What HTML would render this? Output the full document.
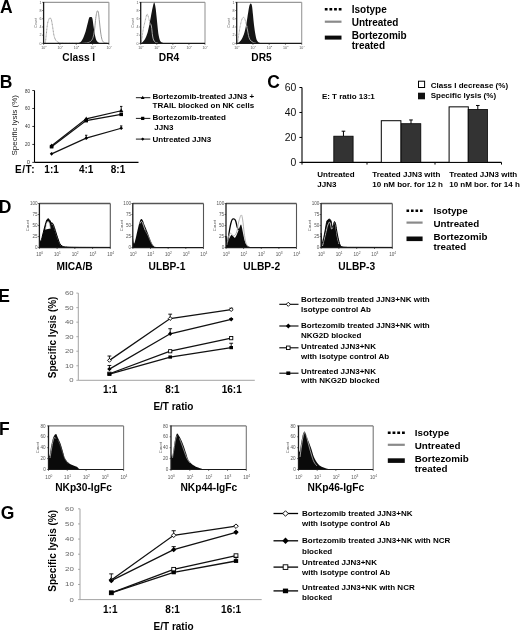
<!DOCTYPE html>
<html><head><meta charset="utf-8"><style>
html,body{margin:0;padding:0;background:#fff;}
body{width:520px;height:630px;overflow:hidden;font-family:"Liberation Sans", sans-serif;}
svg{display:block;filter:blur(0.35px);}
</style></head><body>
<svg width="520" height="630" viewBox="0 0 520 630" font-family='"Liberation Sans", sans-serif'>
<rect width="520" height="630" fill="#fff"/>
<text x="-0.1" y="13.2" font-size="17.5" font-weight="bold" text-anchor="start" fill="#000" >A</text>
<line x1="43.60" y1="2.30" x2="108.90" y2="2.30" stroke="#999" stroke-width="1.3" />
<line x1="108.90" y1="2.30" x2="108.90" y2="43.40" stroke="#999" stroke-width="1.1" />
<line x1="42.20" y1="43.40" x2="43.60" y2="43.40" stroke="#333" stroke-width="0.7" />
<text x="41.4" y="44.696" font-size="3.6" font-weight="normal" text-anchor="end" fill="#555" >0</text>
<line x1="42.20" y1="35.18" x2="43.60" y2="35.18" stroke="#333" stroke-width="0.7" />
<text x="41.4" y="36.476" font-size="3.6" font-weight="normal" text-anchor="end" fill="#555" >2</text>
<line x1="42.20" y1="26.96" x2="43.60" y2="26.96" stroke="#333" stroke-width="0.7" />
<text x="41.4" y="28.255999999999997" font-size="3.6" font-weight="normal" text-anchor="end" fill="#555" >4</text>
<line x1="42.20" y1="18.74" x2="43.60" y2="18.74" stroke="#333" stroke-width="0.7" />
<text x="41.4" y="20.035999999999994" font-size="3.6" font-weight="normal" text-anchor="end" fill="#555" >6</text>
<line x1="42.20" y1="10.52" x2="43.60" y2="10.52" stroke="#333" stroke-width="0.7" />
<text x="41.4" y="11.815999999999995" font-size="3.6" font-weight="normal" text-anchor="end" fill="#555" >8</text>
<line x1="42.20" y1="2.30" x2="43.60" y2="2.30" stroke="#333" stroke-width="0.7" />
<text x="41.4" y="3.5959999999999974" font-size="3.6" font-weight="normal" text-anchor="end" fill="#555" >1</text>
<line x1="43.60" y1="43.40" x2="43.60" y2="44.80" stroke="#333" stroke-width="0.7" />
<text x="43.9" y="48.6" font-size="3.6" font-weight="normal" text-anchor="middle" fill="#555" >10<tspan font-size="2.52" dy="-1.44">0</tspan></text>
<line x1="59.93" y1="43.40" x2="59.93" y2="44.80" stroke="#333" stroke-width="0.7" />
<text x="60.225" y="48.6" font-size="3.6" font-weight="normal" text-anchor="middle" fill="#555" >10<tspan font-size="2.52" dy="-1.44">1</tspan></text>
<line x1="76.25" y1="43.40" x2="76.25" y2="44.80" stroke="#333" stroke-width="0.7" />
<text x="76.55" y="48.6" font-size="3.6" font-weight="normal" text-anchor="middle" fill="#555" >10<tspan font-size="2.52" dy="-1.44">2</tspan></text>
<line x1="92.58" y1="43.40" x2="92.58" y2="44.80" stroke="#333" stroke-width="0.7" />
<text x="92.87500000000001" y="48.6" font-size="3.6" font-weight="normal" text-anchor="middle" fill="#555" >10<tspan font-size="2.52" dy="-1.44">3</tspan></text>
<line x1="108.90" y1="43.40" x2="108.90" y2="44.80" stroke="#333" stroke-width="0.7" />
<text x="109.2" y="48.6" font-size="3.6" font-weight="normal" text-anchor="middle" fill="#555" >10<tspan font-size="2.52" dy="-1.44">4</tspan></text>
<text x="37.0" y="22.849999999999998" font-size="3.6" font-weight="normal" text-anchor="middle" fill="#555" transform="rotate(-90 37.00 22.85)">Count</text>
<line x1="140.70" y1="2.30" x2="205.00" y2="2.30" stroke="#999" stroke-width="1.3" />
<line x1="205.00" y1="2.30" x2="205.00" y2="43.40" stroke="#999" stroke-width="1.1" />
<line x1="139.30" y1="43.40" x2="140.70" y2="43.40" stroke="#333" stroke-width="0.7" />
<text x="138.5" y="44.696" font-size="3.6" font-weight="normal" text-anchor="end" fill="#555" >0</text>
<line x1="139.30" y1="35.18" x2="140.70" y2="35.18" stroke="#333" stroke-width="0.7" />
<text x="138.5" y="36.476" font-size="3.6" font-weight="normal" text-anchor="end" fill="#555" >2</text>
<line x1="139.30" y1="26.96" x2="140.70" y2="26.96" stroke="#333" stroke-width="0.7" />
<text x="138.5" y="28.255999999999997" font-size="3.6" font-weight="normal" text-anchor="end" fill="#555" >4</text>
<line x1="139.30" y1="18.74" x2="140.70" y2="18.74" stroke="#333" stroke-width="0.7" />
<text x="138.5" y="20.035999999999994" font-size="3.6" font-weight="normal" text-anchor="end" fill="#555" >6</text>
<line x1="139.30" y1="10.52" x2="140.70" y2="10.52" stroke="#333" stroke-width="0.7" />
<text x="138.5" y="11.815999999999995" font-size="3.6" font-weight="normal" text-anchor="end" fill="#555" >8</text>
<line x1="139.30" y1="2.30" x2="140.70" y2="2.30" stroke="#333" stroke-width="0.7" />
<text x="138.5" y="3.5959999999999974" font-size="3.6" font-weight="normal" text-anchor="end" fill="#555" >1</text>
<line x1="140.70" y1="43.40" x2="140.70" y2="44.80" stroke="#333" stroke-width="0.7" />
<text x="141.0" y="48.6" font-size="3.6" font-weight="normal" text-anchor="middle" fill="#555" >10<tspan font-size="2.52" dy="-1.44">0</tspan></text>
<line x1="156.77" y1="43.40" x2="156.77" y2="44.80" stroke="#333" stroke-width="0.7" />
<text x="157.075" y="48.6" font-size="3.6" font-weight="normal" text-anchor="middle" fill="#555" >10<tspan font-size="2.52" dy="-1.44">1</tspan></text>
<line x1="172.85" y1="43.40" x2="172.85" y2="44.80" stroke="#333" stroke-width="0.7" />
<text x="173.15" y="48.6" font-size="3.6" font-weight="normal" text-anchor="middle" fill="#555" >10<tspan font-size="2.52" dy="-1.44">2</tspan></text>
<line x1="188.93" y1="43.40" x2="188.93" y2="44.80" stroke="#333" stroke-width="0.7" />
<text x="189.22500000000002" y="48.6" font-size="3.6" font-weight="normal" text-anchor="middle" fill="#555" >10<tspan font-size="2.52" dy="-1.44">3</tspan></text>
<line x1="205.00" y1="43.40" x2="205.00" y2="44.80" stroke="#333" stroke-width="0.7" />
<text x="205.3" y="48.6" font-size="3.6" font-weight="normal" text-anchor="middle" fill="#555" >10<tspan font-size="2.52" dy="-1.44">4</tspan></text>
<text x="134.1" y="22.849999999999998" font-size="3.6" font-weight="normal" text-anchor="middle" fill="#555" transform="rotate(-90 134.10 22.85)">Count</text>
<line x1="236.70" y1="2.30" x2="301.70" y2="2.30" stroke="#999" stroke-width="1.3" />
<line x1="301.70" y1="2.30" x2="301.70" y2="43.40" stroke="#999" stroke-width="1.1" />
<line x1="235.30" y1="43.40" x2="236.70" y2="43.40" stroke="#333" stroke-width="0.7" />
<text x="234.5" y="44.696" font-size="3.6" font-weight="normal" text-anchor="end" fill="#555" >0</text>
<line x1="235.30" y1="35.18" x2="236.70" y2="35.18" stroke="#333" stroke-width="0.7" />
<text x="234.5" y="36.476" font-size="3.6" font-weight="normal" text-anchor="end" fill="#555" >2</text>
<line x1="235.30" y1="26.96" x2="236.70" y2="26.96" stroke="#333" stroke-width="0.7" />
<text x="234.5" y="28.255999999999997" font-size="3.6" font-weight="normal" text-anchor="end" fill="#555" >4</text>
<line x1="235.30" y1="18.74" x2="236.70" y2="18.74" stroke="#333" stroke-width="0.7" />
<text x="234.5" y="20.035999999999994" font-size="3.6" font-weight="normal" text-anchor="end" fill="#555" >6</text>
<line x1="235.30" y1="10.52" x2="236.70" y2="10.52" stroke="#333" stroke-width="0.7" />
<text x="234.5" y="11.815999999999995" font-size="3.6" font-weight="normal" text-anchor="end" fill="#555" >8</text>
<line x1="235.30" y1="2.30" x2="236.70" y2="2.30" stroke="#333" stroke-width="0.7" />
<text x="234.5" y="3.5959999999999974" font-size="3.6" font-weight="normal" text-anchor="end" fill="#555" >1</text>
<line x1="236.70" y1="43.40" x2="236.70" y2="44.80" stroke="#333" stroke-width="0.7" />
<text x="237.0" y="48.6" font-size="3.6" font-weight="normal" text-anchor="middle" fill="#555" >10<tspan font-size="2.52" dy="-1.44">0</tspan></text>
<line x1="252.95" y1="43.40" x2="252.95" y2="44.80" stroke="#333" stroke-width="0.7" />
<text x="253.25" y="48.6" font-size="3.6" font-weight="normal" text-anchor="middle" fill="#555" >10<tspan font-size="2.52" dy="-1.44">1</tspan></text>
<line x1="269.20" y1="43.40" x2="269.20" y2="44.80" stroke="#333" stroke-width="0.7" />
<text x="269.5" y="48.6" font-size="3.6" font-weight="normal" text-anchor="middle" fill="#555" >10<tspan font-size="2.52" dy="-1.44">2</tspan></text>
<line x1="285.45" y1="43.40" x2="285.45" y2="44.80" stroke="#333" stroke-width="0.7" />
<text x="285.75" y="48.6" font-size="3.6" font-weight="normal" text-anchor="middle" fill="#555" >10<tspan font-size="2.52" dy="-1.44">3</tspan></text>
<line x1="301.70" y1="43.40" x2="301.70" y2="44.80" stroke="#333" stroke-width="0.7" />
<text x="302.0" y="48.6" font-size="3.6" font-weight="normal" text-anchor="middle" fill="#555" >10<tspan font-size="2.52" dy="-1.44">4</tspan></text>
<text x="230.1" y="22.849999999999998" font-size="3.6" font-weight="normal" text-anchor="middle" fill="#555" transform="rotate(-90 230.10 22.85)">Count</text>
<path d="M44.50,43.40 C44.65,43.27 45.12,44.00 45.40,42.60 C45.68,41.20 45.85,38.10 46.20,35.00 C46.55,31.90 47.03,26.67 47.50,24.00 C47.97,21.33 48.57,19.98 49.00,19.00 C49.43,18.02 49.72,18.02 50.10,18.10 C50.48,18.18 50.90,18.18 51.30,19.50 C51.70,20.82 52.05,23.33 52.50,26.00 C52.95,28.67 53.42,33.08 54.00,35.50 C54.58,37.92 55.17,39.32 56.00,40.50 C56.83,41.68 57.83,42.15 59.00,42.60 C60.17,43.05 59.50,43.08 63.00,43.20 C66.50,43.32 77.17,43.28 80.00,43.30" fill="none" stroke="#999" stroke-width="1.0" stroke-dasharray="1.0 0.4"/>
<path d="M77.00,43.40 C77.50,43.23 79.15,42.97 80.00,42.40 C80.85,41.83 81.43,41.07 82.10,40.00 C82.77,38.93 83.42,37.42 84.00,36.00 C84.58,34.58 85.10,33.17 85.60,31.50 C86.10,29.83 86.57,27.72 87.00,26.00 C87.43,24.28 87.83,22.57 88.20,21.20 C88.57,19.83 88.82,18.48 89.20,17.80 C89.58,17.12 90.07,17.18 90.50,17.10 C90.93,17.02 91.45,16.90 91.80,17.30 C92.15,17.70 92.32,18.05 92.60,19.50 C92.88,20.95 93.18,23.83 93.50,26.00 C93.82,28.17 94.17,30.58 94.50,32.50 C94.83,34.42 95.12,36.08 95.50,37.50 C95.88,38.92 96.15,40.10 96.80,41.00 C97.45,41.90 98.53,42.50 99.40,42.90 C100.27,43.30 101.57,43.32 102.00,43.40 L102.00,43.40 L77.00,43.40 Z" fill="#151515" stroke="none" stroke-width="1" />
<path d="M82.00,43.40 C83.00,43.27 86.50,43.00 88.00,42.60 C89.50,42.20 90.17,41.85 91.00,41.00 C91.83,40.15 92.42,39.33 93.00,37.50 C93.58,35.67 94.08,32.83 94.50,30.00 C94.92,27.17 95.17,23.25 95.50,20.50 C95.83,17.75 96.17,15.12 96.50,13.50 C96.83,11.88 97.17,10.85 97.50,10.80 C97.83,10.75 98.17,11.33 98.50,13.20 C98.83,15.07 99.15,18.87 99.50,22.00 C99.85,25.13 100.18,29.08 100.60,32.00 C101.02,34.92 101.43,37.73 102.00,39.50 C102.57,41.27 103.17,41.98 104.00,42.60 C104.83,43.22 106.50,43.10 107.00,43.20" fill="none" stroke="#999" stroke-width="1.0" />
<path d="M141.30,43.40 C141.75,42.93 143.22,41.67 144.00,40.60 C144.78,39.53 145.33,38.60 146.00,37.00 C146.67,35.40 147.42,33.17 148.00,31.00 C148.58,28.83 149.00,26.50 149.50,24.00 C150.00,21.50 150.48,18.70 151.00,16.00 C151.52,13.30 152.07,10.03 152.60,7.80 C153.13,5.57 153.70,2.57 154.20,2.60 C154.70,2.63 155.20,5.60 155.60,8.00 C156.00,10.40 156.27,13.83 156.60,17.00 C156.93,20.17 157.27,24.00 157.60,27.00 C157.93,30.00 158.20,32.77 158.60,35.00 C159.00,37.23 159.43,39.15 160.00,40.40 C160.57,41.65 161.17,42.03 162.00,42.50 C162.83,42.97 163.67,43.05 165.00,43.20 C166.33,43.35 169.17,43.37 170.00,43.40 L170.00,43.40 L141.30,43.40 Z" fill="#151515" stroke="none" stroke-width="1" />
<path d="M141.00,43.40 C141.15,42.58 141.50,40.98 141.90,38.50 C142.30,36.02 142.88,31.33 143.40,28.50 C143.92,25.67 144.52,23.58 145.00,21.50 C145.48,19.42 145.92,17.22 146.30,16.00 C146.68,14.78 146.93,13.95 147.30,14.20 C147.67,14.45 148.05,15.95 148.50,17.50 C148.95,19.05 149.75,22.50 150.00,23.50" fill="none" stroke="#999" stroke-width="0.9" stroke-dasharray="0.9 0.5"/>
<path d="M149.30,24.50 C149.48,24.38 150.05,23.55 150.40,23.80 C150.75,24.05 151.13,24.80 151.40,26.00 C151.67,27.20 151.80,29.33 152.00,31.00 C152.20,32.67 152.33,34.50 152.60,36.00 C152.87,37.50 153.12,38.93 153.60,40.00 C154.08,41.07 154.77,41.87 155.50,42.40 C156.23,42.93 157.58,43.07 158.00,43.20" fill="none" stroke="#bbb" stroke-width="0.9" />
<path d="M237.40,43.40 C238.00,42.87 239.92,41.73 241.00,40.20 C242.08,38.67 243.15,36.23 243.90,34.20 C244.65,32.17 244.98,30.37 245.50,28.00 C246.02,25.63 246.50,22.92 247.00,20.00 C247.50,17.08 248.07,13.00 248.50,10.50 C248.93,8.00 249.22,6.17 249.60,5.00 C249.98,3.83 250.40,3.33 250.80,3.50 C251.20,3.67 251.63,4.08 252.00,6.00 C252.37,7.92 252.67,11.83 253.00,15.00 C253.33,18.17 253.58,21.67 254.00,25.00 C254.42,28.33 255.00,32.42 255.50,35.00 C256.00,37.58 256.33,39.20 257.00,40.50 C257.67,41.80 258.50,42.32 259.50,42.80 C260.50,43.28 262.42,43.30 263.00,43.40 L263.00,43.40 L237.40,43.40 Z" fill="#151515" stroke="none" stroke-width="1" />
<path d="M237.20,43.40 C237.33,42.83 237.62,42.23 238.00,40.00 C238.38,37.77 239.00,32.92 239.50,30.00 C240.00,27.08 240.53,24.42 241.00,22.50 C241.47,20.58 241.88,19.37 242.30,18.50 C242.72,17.63 243.08,17.25 243.50,17.30 C243.92,17.35 244.38,17.77 244.80,18.80 C245.22,19.83 245.60,22.13 246.00,23.50 C246.40,24.87 247.00,26.42 247.20,27.00" fill="none" stroke="#999" stroke-width="0.9" stroke-dasharray="0.9 0.5"/>
<path d="M246.40,25.50 C246.58,26.25 247.15,28.33 247.50,30.00 C247.85,31.67 248.08,33.87 248.50,35.50 C248.92,37.13 249.25,38.65 250.00,39.80 C250.75,40.95 252.00,41.83 253.00,42.40 C254.00,42.97 255.50,43.07 256.00,43.20" fill="none" stroke="#bbb" stroke-width="0.9" />
<line x1="43.60" y1="2.00" x2="43.60" y2="43.70" stroke="#1a1a1a" stroke-width="1.3" />
<line x1="43.60" y1="43.40" x2="108.90" y2="43.40" stroke="#1a1a1a" stroke-width="1.1" />
<line x1="140.70" y1="2.00" x2="140.70" y2="43.70" stroke="#1a1a1a" stroke-width="1.3" />
<line x1="140.70" y1="43.40" x2="205.00" y2="43.40" stroke="#1a1a1a" stroke-width="1.1" />
<line x1="236.70" y1="2.00" x2="236.70" y2="43.70" stroke="#1a1a1a" stroke-width="1.3" />
<line x1="236.70" y1="43.40" x2="301.70" y2="43.40" stroke="#1a1a1a" stroke-width="1.1" />
<text x="78.8" y="61.3" font-size="10.2" font-weight="bold" text-anchor="middle" fill="#000" >Class I</text>
<text x="169" y="61.3" font-size="10.2" font-weight="bold" text-anchor="middle" fill="#000" >DR4</text>
<text x="261.5" y="61.3" font-size="10.2" font-weight="bold" text-anchor="middle" fill="#000" >DR5</text>
<line x1="324.80" y1="9.30" x2="341.50" y2="9.30" stroke="#000" stroke-width="2.5" stroke-dasharray="2.75 1.9"/>
<line x1="324.80" y1="21.70" x2="341.50" y2="21.70" stroke="#8a8a8a" stroke-width="2.2" />
<line x1="324.80" y1="37.60" x2="341.50" y2="37.60" stroke="#0a0a0a" stroke-width="4.0" />
<text x="351.7" y="13.0" font-size="10" font-weight="bold" text-anchor="start" fill="#000" >Isotype</text>
<text x="351.7" y="25.8" font-size="10" font-weight="bold" text-anchor="start" fill="#000" >Untreated</text>
<text x="351.7" y="38.7" font-size="10" font-weight="bold" text-anchor="start" fill="#000" >Bortezomib</text>
<text x="351.7" y="49.2" font-size="10" font-weight="bold" text-anchor="start" fill="#000" >treated</text>
<text x="-0.2" y="87.6" font-size="17.5" font-weight="bold" text-anchor="start" fill="#000" >B</text>
<line x1="34.50" y1="90.50" x2="34.50" y2="162.40" stroke="#000" stroke-width="1.1" />
<line x1="34.50" y1="162.40" x2="138.50" y2="162.40" stroke="#000" stroke-width="1.1" />
<line x1="32.30" y1="162.40" x2="34.50" y2="162.40" stroke="#000" stroke-width="0.8" />
<text x="30.1" y="164.4" font-size="5.8" font-weight="normal" text-anchor="end" fill="#333" >0</text>
<line x1="32.30" y1="144.43" x2="34.50" y2="144.43" stroke="#000" stroke-width="0.8" />
<text x="30.1" y="146.425" font-size="5.8" font-weight="normal" text-anchor="end" fill="#333" textLength="5.0" lengthAdjust="spacingAndGlyphs">20</text>
<line x1="32.30" y1="126.45" x2="34.50" y2="126.45" stroke="#000" stroke-width="0.8" />
<text x="30.1" y="128.45" font-size="5.8" font-weight="normal" text-anchor="end" fill="#333" textLength="5.0" lengthAdjust="spacingAndGlyphs">40</text>
<line x1="32.30" y1="108.47" x2="34.50" y2="108.47" stroke="#000" stroke-width="0.8" />
<text x="30.1" y="110.475" font-size="5.8" font-weight="normal" text-anchor="end" fill="#333" textLength="5.0" lengthAdjust="spacingAndGlyphs">60</text>
<line x1="32.30" y1="90.50" x2="34.50" y2="90.50" stroke="#000" stroke-width="0.8" />
<text x="30.1" y="92.5" font-size="5.8" font-weight="normal" text-anchor="end" fill="#333" textLength="5.0" lengthAdjust="spacingAndGlyphs">80</text>
<text x="17.1" y="125.3" font-size="8" font-weight="normal" text-anchor="middle" fill="#222" transform="rotate(-90 17.1 125.3)">Specific lysis (%)</text>
<text x="14.9" y="172.6" font-size="10" font-weight="bold" text-anchor="start" fill="#000" textLength="19.6" lengthAdjust="spacing">E/T:</text>
<text x="51.6" y="172.9" font-size="10" font-weight="bold" text-anchor="middle" fill="#000" >1:1</text>
<text x="86.2" y="172.9" font-size="10" font-weight="bold" text-anchor="middle" fill="#000" >4:1</text>
<text x="118.0" y="172.9" font-size="10" font-weight="bold" text-anchor="middle" fill="#000" >8:1</text>
<polyline points="51.6,145.77 86.2,118.81 121.2,110.72" fill="none" stroke="#111" stroke-width="1.2"/>
<line x1="121.20" y1="110.72" x2="121.20" y2="106.41" stroke="#000" stroke-width="0.9" />
<line x1="120.00" y1="106.41" x2="122.40" y2="106.41" stroke="#000" stroke-width="0.9" />
<path d="M51.6,143.573125 L53.7,147.173125 L49.5,147.173125 Z" fill="#000"/>
<path d="M86.2,116.610625 L88.3,120.21062500000001 L84.10000000000001,120.21062500000001 Z" fill="#000"/>
<path d="M121.2,108.52187500000001 L123.3,112.12187500000002 L119.10000000000001,112.12187500000002 Z" fill="#000"/>
<polyline points="51.6,146.67 86.2,120.61 121.2,114.32" fill="none" stroke="#111" stroke-width="1.2"/>
<rect x="49.80" y="144.87" width="3.60" height="3.60" fill="#000"/>
<rect x="84.40" y="118.81" width="3.60" height="3.60" fill="#000"/>
<rect x="119.40" y="112.52" width="3.60" height="3.60" fill="#000"/>
<polyline points="51.6,153.86 86.2,138.13 121.2,128.25" fill="none" stroke="#111" stroke-width="1.2"/>
<line x1="86.20" y1="138.13" x2="86.20" y2="135.26" stroke="#000" stroke-width="0.9" />
<line x1="85.00" y1="135.26" x2="87.40" y2="135.26" stroke="#000" stroke-width="0.9" />
<line x1="121.20" y1="128.25" x2="121.20" y2="125.91" stroke="#000" stroke-width="0.9" />
<line x1="120.00" y1="125.91" x2="122.40" y2="125.91" stroke="#000" stroke-width="0.9" />
<path d="M51.6,152.061875 L53.4,153.861875 L51.6,155.661875 L49.800000000000004,153.861875 Z" fill="#000"/>
<path d="M86.2,136.33374999999998 L88.0,138.13375 L86.2,139.93375 L84.4,138.13375 Z" fill="#000"/>
<path d="M121.2,126.4475 L123.0,128.2475 L121.2,130.0475 L119.4,128.2475 Z" fill="#000"/>
<line x1="135.90" y1="97.70" x2="150.30" y2="97.70" stroke="#000" stroke-width="0.9" />
<path d="M142.7,95.72 L144.58999999999997,98.96000000000001 L140.81,98.96000000000001 Z" fill="#000"/>
<text x="152.5" y="98.8" font-size="8" font-weight="bold" text-anchor="start" fill="#000" >Bortezomib-treated JJN3 +</text>
<text x="152.5" y="108.4" font-size="8" font-weight="bold" text-anchor="start" fill="#000" >TRAIL blocked on NK cells</text>
<line x1="135.90" y1="118.40" x2="150.30" y2="118.40" stroke="#000" stroke-width="0.9" />
<rect x="141.08" y="116.78" width="3.24" height="3.24" fill="#000"/>
<text x="152.5" y="120.2" font-size="8" font-weight="bold" text-anchor="start" fill="#000" >Bortezomib-treated</text>
<text x="154.3" y="129.7" font-size="8" font-weight="bold" text-anchor="start" fill="#000" >JJN3</text>
<line x1="135.90" y1="139.10" x2="150.30" y2="139.10" stroke="#000" stroke-width="0.9" />
<path d="M142.7,137.48 L144.32,139.1 L142.7,140.72 L141.07999999999998,139.1 Z" fill="#000"/>
<text x="152.5" y="141.8" font-size="8" font-weight="bold" text-anchor="start" fill="#000" >Untreated JJN3</text>
<text x="267.3" y="87.5" font-size="17.5" font-weight="bold" text-anchor="start" fill="#000" >C</text>
<line x1="302.00" y1="87.50" x2="302.00" y2="162.40" stroke="#000" stroke-width="1.1" />
<line x1="301.50" y1="162.40" x2="501.50" y2="162.40" stroke="#000" stroke-width="1.1" />
<line x1="299.40" y1="162.40" x2="302.00" y2="162.40" stroke="#000" stroke-width="1" />
<text x="296.2" y="166.0" font-size="10.4" font-weight="normal" text-anchor="end" fill="#111" >0</text>
<line x1="299.40" y1="137.43" x2="302.00" y2="137.43" stroke="#000" stroke-width="1" />
<text x="296.2" y="141.03333333333333" font-size="10.4" font-weight="normal" text-anchor="end" fill="#111" >20</text>
<line x1="299.40" y1="112.47" x2="302.00" y2="112.47" stroke="#000" stroke-width="1" />
<text x="296.2" y="116.06666666666666" font-size="10.4" font-weight="normal" text-anchor="end" fill="#111" >40</text>
<line x1="299.40" y1="87.50" x2="302.00" y2="87.50" stroke="#000" stroke-width="1" />
<text x="296.2" y="91.1" font-size="10.4" font-weight="normal" text-anchor="end" fill="#111" >60</text>
<line x1="302.00" y1="162.40" x2="302.00" y2="164.60" stroke="#000" stroke-width="1" />
<line x1="367.00" y1="162.40" x2="367.00" y2="164.60" stroke="#000" stroke-width="1" />
<line x1="435.00" y1="162.40" x2="435.00" y2="164.60" stroke="#000" stroke-width="1" />
<line x1="501.50" y1="162.40" x2="501.50" y2="164.60" stroke="#000" stroke-width="1" />
<line x1="343.45" y1="136.19" x2="343.45" y2="131.19" stroke="#000" stroke-width="1" />
<line x1="341.65" y1="131.19" x2="345.25" y2="131.19" stroke="#000" stroke-width="1" />
<rect x="333.80" y="136.19" width="19.30" height="26.22" fill="#333" stroke="#000" stroke-width="0.8"/>
<rect x="381.30" y="120.71" width="19.60" height="41.69" fill="#fff" stroke="#000" stroke-width="1"/>
<line x1="411.00" y1="123.70" x2="411.00" y2="119.96" stroke="#000" stroke-width="1" />
<line x1="409.20" y1="119.96" x2="412.80" y2="119.96" stroke="#000" stroke-width="1" />
<rect x="401.20" y="123.70" width="19.60" height="38.70" fill="#333" stroke="#000" stroke-width="0.8"/>
<rect x="449.10" y="106.85" width="19.20" height="55.55" fill="#fff" stroke="#000" stroke-width="1"/>
<line x1="477.80" y1="109.47" x2="477.80" y2="105.48" stroke="#000" stroke-width="1" />
<line x1="476.00" y1="105.48" x2="479.60" y2="105.48" stroke="#000" stroke-width="1" />
<rect x="468.20" y="109.47" width="19.20" height="52.93" fill="#333" stroke="#000" stroke-width="0.8"/>
<text x="321.9" y="98.5" font-size="8" font-weight="bold" text-anchor="start" fill="#000" >E: T ratio 13:1</text>
<rect x="418.50" y="81.20" width="6.10" height="6.30" fill="#fff" stroke="#000" stroke-width="1"/>
<rect x="418.00" y="92.70" width="7.00" height="6.60" fill="#111" stroke="none" stroke-width="1"/>
<text x="430.7" y="88.1" font-size="8" font-weight="bold" text-anchor="start" fill="#000" >Class I decrease (%)</text>
<text x="430.7" y="98.3" font-size="8" font-weight="bold" text-anchor="start" fill="#000" >Specific lysis (%)</text>
<text x="317.3" y="177.1" font-size="8" font-weight="bold" text-anchor="start" fill="#000" >Untreated</text>
<text x="317.3" y="186.5" font-size="8" font-weight="bold" text-anchor="start" fill="#000" >JJN3</text>
<text x="372.3" y="177.1" font-size="8" font-weight="bold" text-anchor="start" fill="#000" >Treated JJN3 with</text>
<text x="372.3" y="186.5" font-size="8" font-weight="bold" text-anchor="start" fill="#000" >10 nM bor. for 12 h</text>
<text x="449.2" y="177.1" font-size="8" font-weight="bold" text-anchor="start" fill="#000" >Treated JJN3 with</text>
<text x="449.2" y="186.5" font-size="8" font-weight="bold" text-anchor="start" fill="#000" >10 nM bor. for 14 h</text>
<text x="-1.2" y="212.5" font-size="17.5" font-weight="bold" text-anchor="start" fill="#000" >D</text>
<line x1="39.40" y1="203.50" x2="110.30" y2="203.50" stroke="#555" stroke-width="1.3" />
<line x1="110.30" y1="203.50" x2="110.30" y2="247.60" stroke="#555" stroke-width="1.1" />
<line x1="38.00" y1="247.60" x2="39.40" y2="247.60" stroke="#333" stroke-width="0.7" />
<text x="37.6" y="249.256" font-size="4.6" font-weight="normal" text-anchor="end" fill="#555" >0</text>
<line x1="38.00" y1="236.57" x2="39.40" y2="236.57" stroke="#333" stroke-width="0.7" />
<text x="37.6" y="238.231" font-size="4.6" font-weight="normal" text-anchor="end" fill="#555" >25</text>
<line x1="38.00" y1="225.55" x2="39.40" y2="225.55" stroke="#333" stroke-width="0.7" />
<text x="37.6" y="227.20600000000002" font-size="4.6" font-weight="normal" text-anchor="end" fill="#555" >50</text>
<line x1="38.00" y1="214.53" x2="39.40" y2="214.53" stroke="#333" stroke-width="0.7" />
<text x="37.6" y="216.181" font-size="4.6" font-weight="normal" text-anchor="end" fill="#555" >75</text>
<line x1="38.00" y1="203.50" x2="39.40" y2="203.50" stroke="#333" stroke-width="0.7" />
<text x="37.6" y="205.156" font-size="4.6" font-weight="normal" text-anchor="end" fill="#555" >100</text>
<line x1="39.40" y1="247.60" x2="39.40" y2="249.00" stroke="#333" stroke-width="0.7" />
<text x="39.699999999999996" y="256.2" font-size="4.6" font-weight="normal" text-anchor="middle" fill="#555" >10<tspan font-size="3.22" dy="-1.84">0</tspan></text>
<line x1="57.12" y1="247.60" x2="57.12" y2="249.00" stroke="#333" stroke-width="0.7" />
<text x="57.425" y="256.2" font-size="4.6" font-weight="normal" text-anchor="middle" fill="#555" >10<tspan font-size="3.22" dy="-1.84">1</tspan></text>
<line x1="74.85" y1="247.60" x2="74.85" y2="249.00" stroke="#333" stroke-width="0.7" />
<text x="75.14999999999999" y="256.2" font-size="4.6" font-weight="normal" text-anchor="middle" fill="#555" >10<tspan font-size="3.22" dy="-1.84">2</tspan></text>
<line x1="92.58" y1="247.60" x2="92.58" y2="249.00" stroke="#333" stroke-width="0.7" />
<text x="92.875" y="256.2" font-size="4.6" font-weight="normal" text-anchor="middle" fill="#555" >10<tspan font-size="3.22" dy="-1.84">3</tspan></text>
<line x1="110.30" y1="247.60" x2="110.30" y2="249.00" stroke="#333" stroke-width="0.7" />
<text x="110.60000000000001" y="256.2" font-size="4.6" font-weight="normal" text-anchor="middle" fill="#555" >10<tspan font-size="3.22" dy="-1.84">4</tspan></text>
<text x="29.4" y="225.55" font-size="4.2" font-weight="normal" text-anchor="middle" fill="#555" transform="rotate(-90 29.40 225.55)">Count</text>
<line x1="132.80" y1="203.50" x2="203.50" y2="203.50" stroke="#555" stroke-width="1.3" />
<line x1="203.50" y1="203.50" x2="203.50" y2="247.60" stroke="#555" stroke-width="1.1" />
<line x1="131.40" y1="247.60" x2="132.80" y2="247.60" stroke="#333" stroke-width="0.7" />
<text x="131.0" y="249.256" font-size="4.6" font-weight="normal" text-anchor="end" fill="#555" >0</text>
<line x1="131.40" y1="236.57" x2="132.80" y2="236.57" stroke="#333" stroke-width="0.7" />
<text x="131.0" y="238.231" font-size="4.6" font-weight="normal" text-anchor="end" fill="#555" >25</text>
<line x1="131.40" y1="225.55" x2="132.80" y2="225.55" stroke="#333" stroke-width="0.7" />
<text x="131.0" y="227.20600000000002" font-size="4.6" font-weight="normal" text-anchor="end" fill="#555" >50</text>
<line x1="131.40" y1="214.53" x2="132.80" y2="214.53" stroke="#333" stroke-width="0.7" />
<text x="131.0" y="216.181" font-size="4.6" font-weight="normal" text-anchor="end" fill="#555" >75</text>
<line x1="131.40" y1="203.50" x2="132.80" y2="203.50" stroke="#333" stroke-width="0.7" />
<text x="131.0" y="205.156" font-size="4.6" font-weight="normal" text-anchor="end" fill="#555" >100</text>
<line x1="132.80" y1="247.60" x2="132.80" y2="249.00" stroke="#333" stroke-width="0.7" />
<text x="133.10000000000002" y="256.2" font-size="4.6" font-weight="normal" text-anchor="middle" fill="#555" >10<tspan font-size="3.22" dy="-1.84">0</tspan></text>
<line x1="150.48" y1="247.60" x2="150.48" y2="249.00" stroke="#333" stroke-width="0.7" />
<text x="150.77500000000003" y="256.2" font-size="4.6" font-weight="normal" text-anchor="middle" fill="#555" >10<tspan font-size="3.22" dy="-1.84">1</tspan></text>
<line x1="168.15" y1="247.60" x2="168.15" y2="249.00" stroke="#333" stroke-width="0.7" />
<text x="168.45000000000002" y="256.2" font-size="4.6" font-weight="normal" text-anchor="middle" fill="#555" >10<tspan font-size="3.22" dy="-1.84">2</tspan></text>
<line x1="185.82" y1="247.60" x2="185.82" y2="249.00" stroke="#333" stroke-width="0.7" />
<text x="186.125" y="256.2" font-size="4.6" font-weight="normal" text-anchor="middle" fill="#555" >10<tspan font-size="3.22" dy="-1.84">3</tspan></text>
<line x1="203.50" y1="247.60" x2="203.50" y2="249.00" stroke="#333" stroke-width="0.7" />
<text x="203.8" y="256.2" font-size="4.6" font-weight="normal" text-anchor="middle" fill="#555" >10<tspan font-size="3.22" dy="-1.84">4</tspan></text>
<text x="122.80000000000001" y="225.55" font-size="4.2" font-weight="normal" text-anchor="middle" fill="#555" transform="rotate(-90 122.80 225.55)">Count</text>
<line x1="226.00" y1="203.50" x2="296.50" y2="203.50" stroke="#555" stroke-width="1.3" />
<line x1="296.50" y1="203.50" x2="296.50" y2="247.60" stroke="#555" stroke-width="1.1" />
<line x1="224.60" y1="247.60" x2="226.00" y2="247.60" stroke="#333" stroke-width="0.7" />
<text x="224.2" y="249.256" font-size="4.6" font-weight="normal" text-anchor="end" fill="#555" >0</text>
<line x1="224.60" y1="236.57" x2="226.00" y2="236.57" stroke="#333" stroke-width="0.7" />
<text x="224.2" y="238.231" font-size="4.6" font-weight="normal" text-anchor="end" fill="#555" >25</text>
<line x1="224.60" y1="225.55" x2="226.00" y2="225.55" stroke="#333" stroke-width="0.7" />
<text x="224.2" y="227.20600000000002" font-size="4.6" font-weight="normal" text-anchor="end" fill="#555" >50</text>
<line x1="224.60" y1="214.53" x2="226.00" y2="214.53" stroke="#333" stroke-width="0.7" />
<text x="224.2" y="216.181" font-size="4.6" font-weight="normal" text-anchor="end" fill="#555" >75</text>
<line x1="224.60" y1="203.50" x2="226.00" y2="203.50" stroke="#333" stroke-width="0.7" />
<text x="224.2" y="205.156" font-size="4.6" font-weight="normal" text-anchor="end" fill="#555" >100</text>
<line x1="226.00" y1="247.60" x2="226.00" y2="249.00" stroke="#333" stroke-width="0.7" />
<text x="226.3" y="256.2" font-size="4.6" font-weight="normal" text-anchor="middle" fill="#555" >10<tspan font-size="3.22" dy="-1.84">0</tspan></text>
<line x1="243.62" y1="247.60" x2="243.62" y2="249.00" stroke="#333" stroke-width="0.7" />
<text x="243.925" y="256.2" font-size="4.6" font-weight="normal" text-anchor="middle" fill="#555" >10<tspan font-size="3.22" dy="-1.84">1</tspan></text>
<line x1="261.25" y1="247.60" x2="261.25" y2="249.00" stroke="#333" stroke-width="0.7" />
<text x="261.55" y="256.2" font-size="4.6" font-weight="normal" text-anchor="middle" fill="#555" >10<tspan font-size="3.22" dy="-1.84">2</tspan></text>
<line x1="278.88" y1="247.60" x2="278.88" y2="249.00" stroke="#333" stroke-width="0.7" />
<text x="279.175" y="256.2" font-size="4.6" font-weight="normal" text-anchor="middle" fill="#555" >10<tspan font-size="3.22" dy="-1.84">3</tspan></text>
<line x1="296.50" y1="247.60" x2="296.50" y2="249.00" stroke="#333" stroke-width="0.7" />
<text x="296.8" y="256.2" font-size="4.6" font-weight="normal" text-anchor="middle" fill="#555" >10<tspan font-size="3.22" dy="-1.84">4</tspan></text>
<text x="216.0" y="225.55" font-size="4.2" font-weight="normal" text-anchor="middle" fill="#555" transform="rotate(-90 216.00 225.55)">Count</text>
<line x1="321.10" y1="203.50" x2="392.30" y2="203.50" stroke="#555" stroke-width="1.3" />
<line x1="392.30" y1="203.50" x2="392.30" y2="247.60" stroke="#555" stroke-width="1.1" />
<line x1="319.70" y1="247.60" x2="321.10" y2="247.60" stroke="#333" stroke-width="0.7" />
<text x="319.3" y="249.256" font-size="4.6" font-weight="normal" text-anchor="end" fill="#555" >0</text>
<line x1="319.70" y1="236.57" x2="321.10" y2="236.57" stroke="#333" stroke-width="0.7" />
<text x="319.3" y="238.231" font-size="4.6" font-weight="normal" text-anchor="end" fill="#555" >25</text>
<line x1="319.70" y1="225.55" x2="321.10" y2="225.55" stroke="#333" stroke-width="0.7" />
<text x="319.3" y="227.20600000000002" font-size="4.6" font-weight="normal" text-anchor="end" fill="#555" >50</text>
<line x1="319.70" y1="214.53" x2="321.10" y2="214.53" stroke="#333" stroke-width="0.7" />
<text x="319.3" y="216.181" font-size="4.6" font-weight="normal" text-anchor="end" fill="#555" >75</text>
<line x1="319.70" y1="203.50" x2="321.10" y2="203.50" stroke="#333" stroke-width="0.7" />
<text x="319.3" y="205.156" font-size="4.6" font-weight="normal" text-anchor="end" fill="#555" >100</text>
<line x1="321.10" y1="247.60" x2="321.10" y2="249.00" stroke="#333" stroke-width="0.7" />
<text x="321.40000000000003" y="256.2" font-size="4.6" font-weight="normal" text-anchor="middle" fill="#555" >10<tspan font-size="3.22" dy="-1.84">0</tspan></text>
<line x1="338.90" y1="247.60" x2="338.90" y2="249.00" stroke="#333" stroke-width="0.7" />
<text x="339.20000000000005" y="256.2" font-size="4.6" font-weight="normal" text-anchor="middle" fill="#555" >10<tspan font-size="3.22" dy="-1.84">1</tspan></text>
<line x1="356.70" y1="247.60" x2="356.70" y2="249.00" stroke="#333" stroke-width="0.7" />
<text x="357.00000000000006" y="256.2" font-size="4.6" font-weight="normal" text-anchor="middle" fill="#555" >10<tspan font-size="3.22" dy="-1.84">2</tspan></text>
<line x1="374.50" y1="247.60" x2="374.50" y2="249.00" stroke="#333" stroke-width="0.7" />
<text x="374.8" y="256.2" font-size="4.6" font-weight="normal" text-anchor="middle" fill="#555" >10<tspan font-size="3.22" dy="-1.84">3</tspan></text>
<line x1="392.30" y1="247.60" x2="392.30" y2="249.00" stroke="#333" stroke-width="0.7" />
<text x="392.6" y="256.2" font-size="4.6" font-weight="normal" text-anchor="middle" fill="#555" >10<tspan font-size="3.22" dy="-1.84">4</tspan></text>
<text x="311.1" y="225.55" font-size="4.2" font-weight="normal" text-anchor="middle" fill="#555" transform="rotate(-90 311.10 225.55)">Count</text>
<path d="M39.40,239.00 C39.63,239.42 40.30,242.00 40.80,241.50 C41.30,241.00 41.80,238.25 42.40,236.00 C43.00,233.75 43.73,230.50 44.40,228.00 C45.07,225.50 45.78,222.53 46.40,221.00 C47.02,219.47 47.52,218.88 48.10,218.80 C48.68,218.72 49.35,219.80 49.90,220.50 C50.45,221.20 50.93,222.52 51.40,223.00 C51.87,223.48 52.20,222.65 52.70,223.40 C53.20,224.15 53.78,225.73 54.40,227.50 C55.02,229.27 55.73,231.92 56.40,234.00 C57.07,236.08 57.82,238.37 58.40,240.00 C58.98,241.63 59.23,242.77 59.90,243.80 C60.57,244.83 61.15,245.67 62.40,246.20 C63.65,246.73 64.57,246.82 67.40,247.00 C70.23,247.18 72.25,247.23 79.40,247.30 C86.55,247.37 105.15,247.38 110.30,247.40 L110.30,247.60 L39.40,247.60 Z" fill="#0a0a0a" stroke="none" stroke-width="1" />
<path d="M45.60,229.50 C45.77,228.55 46.22,225.12 46.60,223.80 C46.98,222.48 47.47,221.70 47.90,221.60 C48.33,221.50 48.80,222.05 49.20,223.20 C49.60,224.35 50.12,227.62 50.30,228.50" fill="#fff" stroke="#ddd" stroke-width="0.8" />
<path d="M51.70,224.50 C51.95,224.58 52.67,224.17 53.20,225.00 C53.73,225.83 54.28,227.67 54.90,229.50 C55.52,231.33 56.23,234.00 56.90,236.00 C57.57,238.00 58.23,239.92 58.90,241.50 C59.57,243.08 60.57,244.83 60.90,245.50" fill="none" stroke="#bbb" stroke-width="0.8" />
<path d="M39.40,239.00 C39.63,239.42 40.30,242.00 40.80,241.50 C41.30,241.00 41.80,238.25 42.40,236.00 C43.00,233.75 43.73,230.50 44.40,228.00 C45.07,225.50 45.78,222.53 46.40,221.00 C47.02,219.47 47.52,218.88 48.10,218.80 C48.68,218.72 49.35,219.80 49.90,220.50 C50.45,221.20 50.93,222.52 51.40,223.00 C51.87,223.48 52.20,222.65 52.70,223.40 C53.20,224.15 53.78,225.73 54.40,227.50 C55.02,229.27 55.73,231.92 56.40,234.00 C57.07,236.08 57.82,238.37 58.40,240.00 C58.98,241.63 59.23,242.77 59.90,243.80 C60.57,244.83 61.15,245.67 62.40,246.20 C63.65,246.73 64.57,246.82 67.40,247.00 C70.23,247.18 72.25,247.23 79.40,247.30 C86.55,247.37 105.15,247.38 110.30,247.40" fill="none" stroke="#000" stroke-width="1.0" />
<path d="M132.80,236.00 C133.00,237.25 133.50,243.17 134.00,243.50 C134.50,243.83 135.17,240.42 135.80,238.00 C136.43,235.58 137.13,231.75 137.80,229.00 C138.47,226.25 139.23,223.15 139.80,221.50 C140.37,219.85 140.70,219.27 141.20,219.10 C141.70,218.93 142.28,219.60 142.80,220.50 C143.32,221.40 143.80,223.25 144.30,224.50 C144.80,225.75 145.22,226.58 145.80,228.00 C146.38,229.42 147.13,231.25 147.80,233.00 C148.47,234.75 149.13,236.78 149.80,238.50 C150.47,240.22 151.13,242.02 151.80,243.30 C152.47,244.58 152.97,245.57 153.80,246.20 C154.63,246.83 155.30,246.92 156.80,247.10 C158.30,247.28 155.02,247.25 162.80,247.30 C170.58,247.35 196.72,247.38 203.50,247.40 L203.50,247.60 L132.80,247.60 Z" fill="#0a0a0a" stroke="none" stroke-width="1" />
<path d="M140.00,223.50 C140.20,223.17 140.80,221.67 141.20,221.50 C141.60,221.33 141.97,221.67 142.40,222.50 C142.83,223.33 143.32,225.17 143.80,226.50 C144.28,227.83 145.05,229.83 145.30,230.50" fill="none" stroke="#ddd" stroke-width="0.9" />
<path d="M145.30,231.00 C145.63,231.50 146.63,232.75 147.30,234.00 C147.97,235.25 148.63,237.00 149.30,238.50 C149.97,240.00 150.63,241.75 151.30,243.00 C151.97,244.25 152.97,245.50 153.30,246.00" fill="none" stroke="#999" stroke-width="0.7" />
<path d="M226.00,236.00 C226.20,237.33 226.70,243.50 227.20,244.00 C227.70,244.50 228.28,240.50 229.00,239.00 C229.72,237.50 230.75,235.42 231.50,235.00 C232.25,234.58 232.92,236.03 233.50,236.50 C234.08,236.97 234.42,238.22 235.00,237.80 C235.58,237.38 236.33,235.47 237.00,234.00 C237.67,232.53 238.42,230.50 239.00,229.00 C239.58,227.50 240.08,225.58 240.50,225.00 C240.92,224.42 241.08,224.17 241.50,225.50 C241.92,226.83 242.50,230.58 243.00,233.00 C243.50,235.42 244.00,238.17 244.50,240.00 C245.00,241.83 245.42,242.95 246.00,244.00 C246.58,245.05 247.17,245.77 248.00,246.30 C248.83,246.83 249.67,247.03 251.00,247.20 C252.33,247.37 248.42,247.27 256.00,247.30 C263.58,247.33 289.75,247.38 296.50,247.40 L296.50,247.60 L226.00,247.60 Z" fill="#0a0a0a" stroke="none" stroke-width="1" />
<path d="M226.00,236.00 C226.20,237.33 226.67,244.67 227.20,244.00 C227.73,243.33 228.62,235.33 229.20,232.00 C229.78,228.67 230.20,226.08 230.70,224.00 C231.20,221.92 231.62,220.33 232.20,219.50 C232.78,218.67 233.62,218.75 234.20,219.00 C234.78,219.25 235.20,219.67 235.70,221.00 C236.20,222.33 236.73,225.50 237.20,227.00 C237.67,228.50 238.28,229.50 238.50,230.00" fill="none" stroke="#000" stroke-width="1.3" />
<path d="M226.80,245.00 C227.12,243.50 228.05,237.95 228.70,236.00 C229.35,234.05 229.87,233.30 230.70,233.30 C231.53,233.30 232.70,236.22 233.70,236.00 C234.70,235.78 235.87,234.33 236.70,232.00 C237.53,229.67 237.95,224.83 238.70,222.00 C239.45,219.17 240.53,215.33 241.20,215.00 C241.87,214.67 242.20,217.00 242.70,220.00 C243.20,223.00 243.70,229.33 244.20,233.00 C244.70,236.67 245.12,239.75 245.70,242.00 C246.28,244.25 247.37,245.75 247.70,246.50" fill="none" stroke="#aaa" stroke-width="0.9" />
<path d="M321.10,233.00 C321.30,234.67 321.80,242.50 322.30,243.00 C322.80,243.50 323.55,238.50 324.10,236.00 C324.65,233.50 325.12,230.50 325.60,228.00 C326.08,225.50 326.35,222.47 327.00,221.00 C327.65,219.53 328.83,219.20 329.50,219.20 C330.17,219.20 330.58,219.87 331.00,221.00 C331.42,222.13 331.65,225.00 332.00,226.00 C332.35,227.00 332.72,227.72 333.10,227.00 C333.48,226.28 333.88,222.20 334.30,221.70 C334.72,221.20 335.22,222.62 335.60,224.00 C335.98,225.38 336.18,227.67 336.60,230.00 C337.02,232.33 337.52,235.50 338.10,238.00 C338.68,240.50 339.43,243.53 340.10,245.00 C340.77,246.47 341.10,246.43 342.10,246.80 C343.10,247.17 344.60,247.12 346.10,247.20 C347.60,247.28 343.40,247.27 351.10,247.30 C358.80,247.33 385.43,247.38 392.30,247.40 L392.30,247.60 L321.10,247.60 Z" fill="#0a0a0a" stroke="none" stroke-width="1" />
<path d="M322.50,246.00 C322.83,244.67 323.83,240.67 324.50,238.00 C325.17,235.33 326.00,232.00 326.50,230.00 C327.00,228.00 327.00,227.33 327.50,226.00 C328.00,224.67 328.97,222.17 329.50,222.00 C330.03,221.83 330.37,223.83 330.70,225.00 C331.03,226.17 331.17,228.58 331.50,229.00 C331.83,229.42 332.20,228.58 332.70,227.50 C333.20,226.42 334.00,222.75 334.50,222.50 C335.00,222.25 335.27,223.75 335.70,226.00 C336.13,228.25 336.55,233.00 337.10,236.00 C337.65,239.00 338.68,242.67 339.00,244.00" fill="none" stroke="#ccc" stroke-width="0.9" />
<path d="M321.10,233.00 C321.30,234.67 321.80,242.50 322.30,243.00 C322.80,243.50 323.55,238.50 324.10,236.00 C324.65,233.50 325.12,230.50 325.60,228.00 C326.08,225.50 326.35,222.47 327.00,221.00 C327.65,219.53 328.83,219.20 329.50,219.20 C330.17,219.20 330.58,219.87 331.00,221.00 C331.42,222.13 331.65,225.00 332.00,226.00 C332.35,227.00 332.72,227.72 333.10,227.00 C333.48,226.28 333.88,222.20 334.30,221.70 C334.72,221.20 335.22,222.62 335.60,224.00 C335.98,225.38 336.18,227.67 336.60,230.00 C337.02,232.33 337.52,235.50 338.10,238.00 C338.68,240.50 339.43,243.53 340.10,245.00 C340.77,246.47 341.10,246.43 342.10,246.80 C343.10,247.17 344.60,247.12 346.10,247.20 C347.60,247.28 343.40,247.27 351.10,247.30 C358.80,247.33 385.43,247.38 392.30,247.40" fill="none" stroke="#000" stroke-width="1.0" />
<line x1="39.40" y1="203.20" x2="39.40" y2="247.90" stroke="#1a1a1a" stroke-width="1.3" />
<line x1="39.40" y1="247.60" x2="110.30" y2="247.60" stroke="#1a1a1a" stroke-width="1.1" />
<line x1="132.80" y1="203.20" x2="132.80" y2="247.90" stroke="#1a1a1a" stroke-width="1.3" />
<line x1="132.80" y1="247.60" x2="203.50" y2="247.60" stroke="#1a1a1a" stroke-width="1.1" />
<line x1="226.00" y1="203.20" x2="226.00" y2="247.90" stroke="#1a1a1a" stroke-width="1.3" />
<line x1="226.00" y1="247.60" x2="296.50" y2="247.60" stroke="#1a1a1a" stroke-width="1.1" />
<line x1="321.10" y1="203.20" x2="321.10" y2="247.90" stroke="#1a1a1a" stroke-width="1.3" />
<line x1="321.10" y1="247.60" x2="392.30" y2="247.60" stroke="#1a1a1a" stroke-width="1.1" />
<text x="74.5" y="270.2" font-size="10.2" font-weight="bold" text-anchor="middle" fill="#000" >MICA/B</text>
<text x="167" y="270.2" font-size="10.2" font-weight="bold" text-anchor="middle" fill="#000" >ULBP-1</text>
<text x="261.7" y="270.2" font-size="10.2" font-weight="bold" text-anchor="middle" fill="#000" >ULBP-2</text>
<text x="356.7" y="270.2" font-size="10.2" font-weight="bold" text-anchor="middle" fill="#000" >ULBP-3</text>
<line x1="406.50" y1="210.70" x2="422.60" y2="210.70" stroke="#000" stroke-width="2.5" stroke-dasharray="2.60 1.9"/>
<line x1="406.50" y1="222.60" x2="422.60" y2="222.60" stroke="#8a8a8a" stroke-width="2.2" />
<line x1="406.50" y1="238.80" x2="422.60" y2="238.80" stroke="#0a0a0a" stroke-width="4.6" />
<text x="433.5" y="213.6" font-size="9.8" font-weight="bold" text-anchor="start" fill="#000" >Isotype</text>
<text x="433.5" y="226.6" font-size="9.8" font-weight="bold" text-anchor="start" fill="#000" >Untreated</text>
<text x="433.5" y="239.6" font-size="9.8" font-weight="bold" text-anchor="start" fill="#000" >Bortezomib</text>
<text x="433.5" y="250.2" font-size="9.8" font-weight="bold" text-anchor="start" fill="#000" >treated</text>
<text x="-1.7" y="301.7" font-size="17.5" font-weight="bold" text-anchor="start" fill="#000" >E</text>
<line x1="78.30" y1="293.10" x2="78.30" y2="380.30" stroke="#999" stroke-width="0.9" />
<line x1="78.30" y1="380.30" x2="254.80" y2="380.30" stroke="#999" stroke-width="0.9" />
<line x1="76.30" y1="380.30" x2="78.30" y2="380.30" stroke="#999" stroke-width="0.8" />
<text x="73.5" y="382.3" font-size="5.6" font-weight="normal" text-anchor="end" fill="#666" textLength="4.3" lengthAdjust="spacingAndGlyphs">0</text>
<line x1="76.30" y1="365.77" x2="78.30" y2="365.77" stroke="#999" stroke-width="0.8" />
<text x="73.5" y="367.76666666666665" font-size="5.6" font-weight="normal" text-anchor="end" fill="#666" textLength="8.6" lengthAdjust="spacingAndGlyphs">10</text>
<line x1="76.30" y1="351.23" x2="78.30" y2="351.23" stroke="#999" stroke-width="0.8" />
<text x="73.5" y="353.23333333333335" font-size="5.6" font-weight="normal" text-anchor="end" fill="#666" textLength="8.6" lengthAdjust="spacingAndGlyphs">20</text>
<line x1="76.30" y1="336.70" x2="78.30" y2="336.70" stroke="#999" stroke-width="0.8" />
<text x="73.5" y="338.70000000000005" font-size="5.6" font-weight="normal" text-anchor="end" fill="#666" textLength="8.6" lengthAdjust="spacingAndGlyphs">30</text>
<line x1="76.30" y1="322.17" x2="78.30" y2="322.17" stroke="#999" stroke-width="0.8" />
<text x="73.5" y="324.1666666666667" font-size="5.6" font-weight="normal" text-anchor="end" fill="#666" textLength="8.6" lengthAdjust="spacingAndGlyphs">40</text>
<line x1="76.30" y1="307.63" x2="78.30" y2="307.63" stroke="#999" stroke-width="0.8" />
<text x="73.5" y="309.6333333333333" font-size="5.6" font-weight="normal" text-anchor="end" fill="#666" textLength="8.6" lengthAdjust="spacingAndGlyphs">50</text>
<line x1="76.30" y1="293.10" x2="78.30" y2="293.10" stroke="#999" stroke-width="0.8" />
<text x="73.5" y="295.1" font-size="5.6" font-weight="normal" text-anchor="end" fill="#666" textLength="8.6" lengthAdjust="spacingAndGlyphs">60</text>
<text x="56.5" y="337.4" font-size="10" font-weight="bold" text-anchor="middle" fill="#000" transform="rotate(-90 56.5 337.4)">Specific lysis (%)</text>
<polyline points="109.4,360.39 170.2,318.53 231.2,309.67" fill="none" stroke="#111" stroke-width="1.3"/>
<polyline points="109.4,369.11 170.2,333.79 231.2,319.26" fill="none" stroke="#111" stroke-width="1.3"/>
<polyline points="109.4,373.76 170.2,351.23 231.2,338.15" fill="none" stroke="#111" stroke-width="1.3"/>
<polyline points="109.4,374.05 170.2,357.05 231.2,347.60" fill="none" stroke="#111" stroke-width="1.3"/>
<line x1="109.40" y1="360.39" x2="109.40" y2="356.03" stroke="#000" stroke-width="0.9" />
<line x1="107.50" y1="356.03" x2="111.30" y2="356.03" stroke="#000" stroke-width="0.9" />
<line x1="170.20" y1="318.53" x2="170.20" y2="314.17" stroke="#000" stroke-width="0.9" />
<line x1="168.30" y1="314.17" x2="172.10" y2="314.17" stroke="#000" stroke-width="0.9" />
<line x1="231.20" y1="309.67" x2="231.20" y2="308.21" stroke="#000" stroke-width="0.9" />
<line x1="229.30" y1="308.21" x2="233.10" y2="308.21" stroke="#000" stroke-width="0.9" />
<path d="M109.4,358.4893333333334 L111.30000000000001,360.38933333333335 L109.4,362.28933333333333 L107.5,360.38933333333335 Z" fill="#fff" stroke="#000" stroke-width="0.9"/>
<path d="M170.2,316.6333333333334 L172.1,318.53333333333336 L170.2,320.43333333333334 L168.29999999999998,318.53333333333336 Z" fill="#fff" stroke="#000" stroke-width="0.9"/>
<path d="M231.2,307.76800000000003 L233.1,309.668 L231.2,311.568 L229.29999999999998,309.668 Z" fill="#fff" stroke="#000" stroke-width="0.9"/>
<line x1="109.40" y1="369.11" x2="109.40" y2="365.48" stroke="#000" stroke-width="0.9" />
<line x1="107.50" y1="365.48" x2="111.30" y2="365.48" stroke="#000" stroke-width="0.9" />
<line x1="170.20" y1="333.79" x2="170.20" y2="328.71" stroke="#000" stroke-width="0.9" />
<line x1="168.30" y1="328.71" x2="172.10" y2="328.71" stroke="#000" stroke-width="0.9" />
<line x1="231.20" y1="319.26" x2="231.20" y2="318.53" stroke="#000" stroke-width="0.9" />
<line x1="229.30" y1="318.53" x2="233.10" y2="318.53" stroke="#000" stroke-width="0.9" />
<path d="M109.4,366.90933333333334 L111.60000000000001,369.1093333333333 L109.4,371.3093333333333 L107.2,369.1093333333333 Z" fill="#000"/>
<path d="M170.2,331.59333333333336 L172.39999999999998,333.79333333333335 L170.2,335.99333333333334 L168.0,333.79333333333335 Z" fill="#000"/>
<path d="M231.2,317.06 L233.39999999999998,319.26 L231.2,321.46 L229.0,319.26 Z" fill="#000"/>
<rect x="107.80" y="372.16" width="3.20" height="3.20" fill="#fff" stroke="#000" stroke-width="0.9"/>
<rect x="168.60" y="349.63" width="3.20" height="3.20" fill="#fff" stroke="#000" stroke-width="0.9"/>
<rect x="229.60" y="336.55" width="3.20" height="3.20" fill="#fff" stroke="#000" stroke-width="0.9"/>
<line x1="231.20" y1="347.60" x2="231.20" y2="343.24" stroke="#000" stroke-width="0.9" />
<line x1="229.30" y1="343.24" x2="233.10" y2="343.24" stroke="#000" stroke-width="0.9" />
<rect x="107.60" y="372.45" width="3.60" height="3.20" fill="#000"/>
<rect x="168.40" y="355.45" width="3.60" height="3.20" fill="#000"/>
<rect x="229.40" y="346.00" width="3.60" height="3.20" fill="#000"/>
<text x="110.2" y="393.0" font-size="10" font-weight="bold" text-anchor="middle" fill="#000" >1:1</text>
<text x="172.4" y="393.0" font-size="10" font-weight="bold" text-anchor="middle" fill="#000" >8:1</text>
<text x="231.7" y="393.0" font-size="10" font-weight="bold" text-anchor="middle" fill="#000" >16:1</text>
<text x="173.4" y="409.6" font-size="10" font-weight="bold" text-anchor="middle" fill="#000" >E/T ratio</text>
<line x1="279.30" y1="304.30" x2="298.50" y2="304.30" stroke="#000" stroke-width="1.1" />
<path d="M288.3,302.21000000000004 L290.39,304.3 L288.3,306.39 L286.21000000000004,304.3 Z" fill="#fff" stroke="#000" stroke-width="0.9"/>
<text x="301.0" y="301.9" font-size="8" font-weight="bold" text-anchor="start" fill="#000" >Bortezomib treated JJN3+NK with</text>
<text x="301.0" y="312.1" font-size="8" font-weight="bold" text-anchor="start" fill="#000" >Isotype control Ab</text>
<line x1="279.30" y1="326.00" x2="298.50" y2="326.00" stroke="#000" stroke-width="1.1" />
<path d="M288.3,323.58 L290.72,326.0 L288.3,328.42 L285.88,326.0 Z" fill="#000"/>
<text x="301.0" y="328.1" font-size="8" font-weight="bold" text-anchor="start" fill="#000" >Bortezomib treated JJN3+NK with</text>
<text x="301.0" y="337.7" font-size="8" font-weight="bold" text-anchor="start" fill="#000" >NKG2D blocked</text>
<line x1="279.30" y1="347.80" x2="298.50" y2="347.80" stroke="#000" stroke-width="1.1" />
<rect x="286.54" y="346.04" width="3.52" height="3.52" fill="#fff" stroke="#000" stroke-width="0.9"/>
<text x="301.0" y="348.8" font-size="8" font-weight="bold" text-anchor="start" fill="#000" >Untreated JJN3+NK</text>
<text x="301.0" y="358.6" font-size="8" font-weight="bold" text-anchor="start" fill="#000" >with isotype control Ab</text>
<line x1="279.30" y1="373.20" x2="298.50" y2="373.20" stroke="#000" stroke-width="1.1" />
<rect x="286.32" y="371.44" width="3.96" height="3.52" fill="#000"/>
<text x="301.0" y="373.5" font-size="8" font-weight="bold" text-anchor="start" fill="#000" >Untreated JJN3+NK</text>
<text x="301.0" y="383.1" font-size="8" font-weight="bold" text-anchor="start" fill="#000" >with NKG2D blocked</text>
<text x="-0.9" y="434.5" font-size="17.5" font-weight="bold" text-anchor="start" fill="#000" >F</text>
<line x1="48.50" y1="425.90" x2="123.60" y2="425.90" stroke="#777" stroke-width="1.3" />
<line x1="123.60" y1="425.90" x2="123.60" y2="469.50" stroke="#777" stroke-width="1.1" />
<line x1="47.10" y1="469.50" x2="48.50" y2="469.50" stroke="#333" stroke-width="0.7" />
<text x="45.7" y="471.156" font-size="4.6" font-weight="normal" text-anchor="end" fill="#555" >0</text>
<line x1="47.10" y1="458.60" x2="48.50" y2="458.60" stroke="#333" stroke-width="0.7" />
<text x="45.7" y="460.25600000000003" font-size="4.6" font-weight="normal" text-anchor="end" fill="#555" >20</text>
<line x1="47.10" y1="447.70" x2="48.50" y2="447.70" stroke="#333" stroke-width="0.7" />
<text x="45.7" y="449.356" font-size="4.6" font-weight="normal" text-anchor="end" fill="#555" >40</text>
<line x1="47.10" y1="436.80" x2="48.50" y2="436.80" stroke="#333" stroke-width="0.7" />
<text x="45.7" y="438.45599999999996" font-size="4.6" font-weight="normal" text-anchor="end" fill="#555" >60</text>
<line x1="47.10" y1="425.90" x2="48.50" y2="425.90" stroke="#333" stroke-width="0.7" />
<text x="45.7" y="427.556" font-size="4.6" font-weight="normal" text-anchor="end" fill="#555" >80</text>
<line x1="48.50" y1="469.50" x2="48.50" y2="470.90" stroke="#333" stroke-width="0.7" />
<text x="48.8" y="478.5" font-size="4.6" font-weight="normal" text-anchor="middle" fill="#555" >10<tspan font-size="3.22" dy="-1.84">0</tspan></text>
<line x1="67.28" y1="469.50" x2="67.28" y2="470.90" stroke="#333" stroke-width="0.7" />
<text x="67.575" y="478.5" font-size="4.6" font-weight="normal" text-anchor="middle" fill="#555" >10<tspan font-size="3.22" dy="-1.84">1</tspan></text>
<line x1="86.05" y1="469.50" x2="86.05" y2="470.90" stroke="#333" stroke-width="0.7" />
<text x="86.35" y="478.5" font-size="4.6" font-weight="normal" text-anchor="middle" fill="#555" >10<tspan font-size="3.22" dy="-1.84">2</tspan></text>
<line x1="104.82" y1="469.50" x2="104.82" y2="470.90" stroke="#333" stroke-width="0.7" />
<text x="105.12499999999999" y="478.5" font-size="4.6" font-weight="normal" text-anchor="middle" fill="#555" >10<tspan font-size="3.22" dy="-1.84">3</tspan></text>
<line x1="123.60" y1="469.50" x2="123.60" y2="470.90" stroke="#333" stroke-width="0.7" />
<text x="123.89999999999999" y="478.5" font-size="4.6" font-weight="normal" text-anchor="middle" fill="#555" >10<tspan font-size="3.22" dy="-1.84">4</tspan></text>
<text x="39.3" y="447.7" font-size="4.2" font-weight="normal" text-anchor="middle" fill="#555" transform="rotate(-90 39.30 447.70)">Count</text>
<line x1="171.00" y1="425.90" x2="246.30" y2="425.90" stroke="#777" stroke-width="1.3" />
<line x1="246.30" y1="425.90" x2="246.30" y2="469.50" stroke="#777" stroke-width="1.1" />
<line x1="169.60" y1="469.50" x2="171.00" y2="469.50" stroke="#333" stroke-width="0.7" />
<text x="168.2" y="471.156" font-size="4.6" font-weight="normal" text-anchor="end" fill="#555" >0</text>
<line x1="169.60" y1="458.60" x2="171.00" y2="458.60" stroke="#333" stroke-width="0.7" />
<text x="168.2" y="460.25600000000003" font-size="4.6" font-weight="normal" text-anchor="end" fill="#555" >20</text>
<line x1="169.60" y1="447.70" x2="171.00" y2="447.70" stroke="#333" stroke-width="0.7" />
<text x="168.2" y="449.356" font-size="4.6" font-weight="normal" text-anchor="end" fill="#555" >40</text>
<line x1="169.60" y1="436.80" x2="171.00" y2="436.80" stroke="#333" stroke-width="0.7" />
<text x="168.2" y="438.45599999999996" font-size="4.6" font-weight="normal" text-anchor="end" fill="#555" >60</text>
<line x1="169.60" y1="425.90" x2="171.00" y2="425.90" stroke="#333" stroke-width="0.7" />
<text x="168.2" y="427.556" font-size="4.6" font-weight="normal" text-anchor="end" fill="#555" >80</text>
<line x1="171.00" y1="469.50" x2="171.00" y2="470.90" stroke="#333" stroke-width="0.7" />
<text x="171.3" y="478.5" font-size="4.6" font-weight="normal" text-anchor="middle" fill="#555" >10<tspan font-size="3.22" dy="-1.84">0</tspan></text>
<line x1="189.82" y1="469.50" x2="189.82" y2="470.90" stroke="#333" stroke-width="0.7" />
<text x="190.125" y="478.5" font-size="4.6" font-weight="normal" text-anchor="middle" fill="#555" >10<tspan font-size="3.22" dy="-1.84">1</tspan></text>
<line x1="208.65" y1="469.50" x2="208.65" y2="470.90" stroke="#333" stroke-width="0.7" />
<text x="208.95000000000002" y="478.5" font-size="4.6" font-weight="normal" text-anchor="middle" fill="#555" >10<tspan font-size="3.22" dy="-1.84">2</tspan></text>
<line x1="227.48" y1="469.50" x2="227.48" y2="470.90" stroke="#333" stroke-width="0.7" />
<text x="227.77500000000003" y="478.5" font-size="4.6" font-weight="normal" text-anchor="middle" fill="#555" >10<tspan font-size="3.22" dy="-1.84">3</tspan></text>
<line x1="246.30" y1="469.50" x2="246.30" y2="470.90" stroke="#333" stroke-width="0.7" />
<text x="246.60000000000002" y="478.5" font-size="4.6" font-weight="normal" text-anchor="middle" fill="#555" >10<tspan font-size="3.22" dy="-1.84">4</tspan></text>
<text x="161.8" y="447.7" font-size="4.2" font-weight="normal" text-anchor="middle" fill="#555" transform="rotate(-90 161.80 447.70)">Count</text>
<line x1="298.50" y1="425.90" x2="373.20" y2="425.90" stroke="#777" stroke-width="1.3" />
<line x1="373.20" y1="425.90" x2="373.20" y2="469.50" stroke="#777" stroke-width="1.1" />
<line x1="297.10" y1="469.50" x2="298.50" y2="469.50" stroke="#333" stroke-width="0.7" />
<text x="295.7" y="471.156" font-size="4.6" font-weight="normal" text-anchor="end" fill="#555" >0</text>
<line x1="297.10" y1="458.60" x2="298.50" y2="458.60" stroke="#333" stroke-width="0.7" />
<text x="295.7" y="460.25600000000003" font-size="4.6" font-weight="normal" text-anchor="end" fill="#555" >20</text>
<line x1="297.10" y1="447.70" x2="298.50" y2="447.70" stroke="#333" stroke-width="0.7" />
<text x="295.7" y="449.356" font-size="4.6" font-weight="normal" text-anchor="end" fill="#555" >40</text>
<line x1="297.10" y1="436.80" x2="298.50" y2="436.80" stroke="#333" stroke-width="0.7" />
<text x="295.7" y="438.45599999999996" font-size="4.6" font-weight="normal" text-anchor="end" fill="#555" >60</text>
<line x1="297.10" y1="425.90" x2="298.50" y2="425.90" stroke="#333" stroke-width="0.7" />
<text x="295.7" y="427.556" font-size="4.6" font-weight="normal" text-anchor="end" fill="#555" >80</text>
<line x1="298.50" y1="469.50" x2="298.50" y2="470.90" stroke="#333" stroke-width="0.7" />
<text x="298.8" y="478.5" font-size="4.6" font-weight="normal" text-anchor="middle" fill="#555" >10<tspan font-size="3.22" dy="-1.84">0</tspan></text>
<line x1="317.18" y1="469.50" x2="317.18" y2="470.90" stroke="#333" stroke-width="0.7" />
<text x="317.475" y="478.5" font-size="4.6" font-weight="normal" text-anchor="middle" fill="#555" >10<tspan font-size="3.22" dy="-1.84">1</tspan></text>
<line x1="335.85" y1="469.50" x2="335.85" y2="470.90" stroke="#333" stroke-width="0.7" />
<text x="336.15000000000003" y="478.5" font-size="4.6" font-weight="normal" text-anchor="middle" fill="#555" >10<tspan font-size="3.22" dy="-1.84">2</tspan></text>
<line x1="354.52" y1="469.50" x2="354.52" y2="470.90" stroke="#333" stroke-width="0.7" />
<text x="354.825" y="478.5" font-size="4.6" font-weight="normal" text-anchor="middle" fill="#555" >10<tspan font-size="3.22" dy="-1.84">3</tspan></text>
<line x1="373.20" y1="469.50" x2="373.20" y2="470.90" stroke="#333" stroke-width="0.7" />
<text x="373.5" y="478.5" font-size="4.6" font-weight="normal" text-anchor="middle" fill="#555" >10<tspan font-size="3.22" dy="-1.84">4</tspan></text>
<text x="289.3" y="447.7" font-size="4.2" font-weight="normal" text-anchor="middle" fill="#555" transform="rotate(-90 289.30 447.70)">Count</text>
<path d="M48.50,452.00 C48.67,452.67 49.08,456.83 49.50,456.00 C49.92,455.17 50.50,449.67 51.00,447.00 C51.50,444.33 52.00,441.83 52.50,440.00 C53.00,438.17 53.40,436.98 54.00,436.00 C54.60,435.02 55.52,433.93 56.10,434.10 C56.68,434.27 56.78,435.47 57.50,437.00 C58.22,438.53 59.43,440.65 60.40,443.30 C61.37,445.95 62.50,450.27 63.30,452.90 C64.10,455.53 64.08,457.25 65.20,459.10 C66.32,460.95 68.07,462.72 70.00,464.00 C71.93,465.28 75.18,465.95 76.80,466.80 C78.42,467.65 78.08,468.67 79.70,469.10 C81.32,469.53 79.18,469.35 86.50,469.40 C93.82,469.45 117.42,469.40 123.60,469.40 L123.60,469.50 L48.50,469.50 Z" fill="#0a0a0a" stroke="none" stroke-width="1" />
<path d="M50.00,458.00 C50.25,456.50 51.00,451.83 51.50,449.00 C52.00,446.17 52.50,442.92 53.00,441.00 C53.50,439.08 54.03,437.92 54.50,437.50 C54.97,437.08 55.58,438.33 55.80,438.50" fill="none" stroke="#bbb" stroke-width="0.8" />
<path d="M58.00,440.00 C58.42,441.00 59.67,443.67 60.50,446.00 C61.33,448.33 62.17,451.67 63.00,454.00 C63.83,456.33 64.58,458.33 65.50,460.00 C66.42,461.67 68.00,463.33 68.50,464.00" fill="none" stroke="#555" stroke-width="0.7" />
<path d="M171.00,454.00 C171.20,454.50 171.78,457.67 172.20,457.00 C172.62,456.33 173.03,452.83 173.50,450.00 C173.97,447.17 174.50,442.58 175.00,440.00 C175.50,437.42 176.07,435.55 176.50,434.50 C176.93,433.45 176.93,433.03 177.60,433.70 C178.27,434.37 179.53,436.58 180.50,438.50 C181.47,440.42 182.43,442.65 183.40,445.20 C184.37,447.75 185.42,451.23 186.30,453.80 C187.18,456.37 187.58,458.75 188.70,460.60 C189.82,462.45 191.32,463.70 193.00,464.90 C194.68,466.10 197.03,467.08 198.80,467.80 C200.57,468.52 201.57,468.93 203.60,469.20 C205.63,469.47 203.88,469.37 211.00,469.40 C218.12,469.43 240.42,469.40 246.30,469.40 L246.30,469.50 L171.00,469.50 Z" fill="#0a0a0a" stroke="none" stroke-width="1" />
<path d="M172.50,458.00 C172.75,456.50 173.50,452.00 174.00,449.00 C174.50,446.00 175.00,442.25 175.50,440.00 C176.00,437.75 176.75,436.25 177.00,435.50" fill="none" stroke="#999" stroke-width="0.8" />
<path d="M179.50,438.50 C179.92,439.58 181.17,442.75 182.00,445.00 C182.83,447.25 183.67,449.75 184.50,452.00 C185.33,454.25 186.08,456.67 187.00,458.50 C187.92,460.33 189.50,462.25 190.00,463.00" fill="none" stroke="#aaa" stroke-width="0.8" />
<path d="M298.50,446.00 C298.70,447.00 299.28,452.33 299.70,452.00 C300.12,451.67 300.53,446.67 301.00,444.00 C301.47,441.33 302.05,437.92 302.50,436.00 C302.95,434.08 303.32,433.22 303.70,432.50 C304.08,431.78 304.42,431.37 304.80,431.70 C305.18,432.03 305.38,432.90 306.00,434.50 C306.62,436.10 307.60,438.88 308.50,441.30 C309.40,443.72 310.52,446.43 311.40,449.00 C312.28,451.57 312.68,454.20 313.80,456.70 C314.92,459.20 316.58,462.23 318.10,464.00 C319.62,465.77 321.13,466.45 322.90,467.30 C324.67,468.15 326.43,468.75 328.70,469.10 C330.97,469.45 329.08,469.35 336.50,469.40 C343.92,469.45 367.08,469.40 373.20,469.40 L373.20,469.50 L298.50,469.50 Z" fill="#0a0a0a" stroke="none" stroke-width="1" />
<path d="M300.00,457.00 C300.25,455.17 301.00,449.33 301.50,446.00 C302.00,442.67 302.50,439.28 303.00,437.00 C303.50,434.72 304.25,433.08 304.50,432.30" fill="none" stroke="#ccc" stroke-width="0.8" />
<path d="M306.00,434.50 C306.50,436.42 308.08,442.58 309.00,446.00 C309.92,449.42 310.67,452.33 311.50,455.00 C312.33,457.67 313.08,460.17 314.00,462.00 C314.92,463.83 316.50,465.33 317.00,466.00" fill="none" stroke="#bbb" stroke-width="0.8" />
<line x1="48.50" y1="425.60" x2="48.50" y2="469.80" stroke="#1a1a1a" stroke-width="1.3" />
<line x1="48.50" y1="469.50" x2="123.60" y2="469.50" stroke="#1a1a1a" stroke-width="1.1" />
<line x1="171.00" y1="425.60" x2="171.00" y2="469.80" stroke="#1a1a1a" stroke-width="1.3" />
<line x1="171.00" y1="469.50" x2="246.30" y2="469.50" stroke="#1a1a1a" stroke-width="1.1" />
<line x1="298.50" y1="425.60" x2="298.50" y2="469.80" stroke="#1a1a1a" stroke-width="1.3" />
<line x1="298.50" y1="469.50" x2="373.20" y2="469.50" stroke="#1a1a1a" stroke-width="1.1" />
<text x="83.5" y="491.0" font-size="10.2" font-weight="bold" text-anchor="middle" fill="#000" >NKp30-IgFc</text>
<text x="208.8" y="491.0" font-size="10.2" font-weight="bold" text-anchor="middle" fill="#000" >NKp44-IgFc</text>
<text x="335.9" y="491.0" font-size="10.2" font-weight="bold" text-anchor="middle" fill="#000" >NKp46-IgFc</text>
<line x1="387.80" y1="432.70" x2="404.80" y2="432.70" stroke="#000" stroke-width="2.5" stroke-dasharray="2.83 1.9"/>
<line x1="387.80" y1="444.80" x2="404.80" y2="444.80" stroke="#8a8a8a" stroke-width="2.2" />
<line x1="387.80" y1="460.60" x2="404.80" y2="460.60" stroke="#0a0a0a" stroke-width="4.6" />
<text x="414.8" y="436.1" font-size="9.8" font-weight="bold" text-anchor="start" fill="#000" >Isotype</text>
<text x="414.8" y="448.8" font-size="9.8" font-weight="bold" text-anchor="start" fill="#000" >Untreated</text>
<text x="414.8" y="461.8" font-size="9.8" font-weight="bold" text-anchor="start" fill="#000" >Bortezomib</text>
<text x="414.8" y="472.2" font-size="9.8" font-weight="bold" text-anchor="start" fill="#000" >treated</text>
<text x="0.8" y="518.5" font-size="17.5" font-weight="bold" text-anchor="start" fill="#000" >G</text>
<line x1="80.00" y1="508.80" x2="80.00" y2="599.60" stroke="#999" stroke-width="0.9" />
<line x1="80.00" y1="599.60" x2="261.70" y2="599.60" stroke="#999" stroke-width="0.9" />
<line x1="78.00" y1="599.60" x2="80.00" y2="599.60" stroke="#999" stroke-width="0.8" />
<text x="73.8" y="601.6" font-size="5.6" font-weight="normal" text-anchor="end" fill="#666" textLength="4.3" lengthAdjust="spacingAndGlyphs">0</text>
<line x1="78.00" y1="584.47" x2="80.00" y2="584.47" stroke="#999" stroke-width="0.8" />
<text x="73.8" y="586.4666666666667" font-size="5.6" font-weight="normal" text-anchor="end" fill="#666" textLength="8.8" lengthAdjust="spacingAndGlyphs">10</text>
<line x1="78.00" y1="569.33" x2="80.00" y2="569.33" stroke="#999" stroke-width="0.8" />
<text x="73.8" y="571.3333333333334" font-size="5.6" font-weight="normal" text-anchor="end" fill="#666" textLength="8.8" lengthAdjust="spacingAndGlyphs">20</text>
<line x1="78.00" y1="554.20" x2="80.00" y2="554.20" stroke="#999" stroke-width="0.8" />
<text x="73.8" y="556.2" font-size="5.6" font-weight="normal" text-anchor="end" fill="#666" textLength="8.8" lengthAdjust="spacingAndGlyphs">30</text>
<line x1="78.00" y1="539.07" x2="80.00" y2="539.07" stroke="#999" stroke-width="0.8" />
<text x="73.8" y="541.0666666666667" font-size="5.6" font-weight="normal" text-anchor="end" fill="#666" textLength="8.8" lengthAdjust="spacingAndGlyphs">40</text>
<line x1="78.00" y1="523.93" x2="80.00" y2="523.93" stroke="#999" stroke-width="0.8" />
<text x="73.8" y="525.9333333333334" font-size="5.6" font-weight="normal" text-anchor="end" fill="#666" textLength="8.8" lengthAdjust="spacingAndGlyphs">50</text>
<line x1="78.00" y1="508.80" x2="80.00" y2="508.80" stroke="#999" stroke-width="0.8" />
<text x="73.8" y="510.8" font-size="5.6" font-weight="normal" text-anchor="end" fill="#666" textLength="8.8" lengthAdjust="spacingAndGlyphs">60</text>
<text x="56.5" y="550.8" font-size="10" font-weight="bold" text-anchor="middle" fill="#000" transform="rotate(-90 56.5 550.8)">Specific lysis (%)</text>
<polyline points="111.3,579.93 173.7,535.28 236.0,526.20" fill="none" stroke="#111" stroke-width="1.3"/>
<polyline points="111.3,580.68 173.7,549.66 236.0,532.26" fill="none" stroke="#111" stroke-width="1.3"/>
<polyline points="111.3,592.79 173.7,569.33 236.0,555.71" fill="none" stroke="#111" stroke-width="1.3"/>
<polyline points="111.3,592.79 173.7,572.36 236.0,561.01" fill="none" stroke="#111" stroke-width="1.3"/>
<line x1="111.30" y1="579.93" x2="111.30" y2="573.87" stroke="#000" stroke-width="0.9" />
<line x1="109.20" y1="573.87" x2="113.40" y2="573.87" stroke="#000" stroke-width="0.9" />
<line x1="173.70" y1="535.28" x2="173.70" y2="530.74" stroke="#000" stroke-width="0.9" />
<line x1="171.60" y1="530.74" x2="175.80" y2="530.74" stroke="#000" stroke-width="0.9" />
<line x1="236.00" y1="526.20" x2="236.00" y2="525.45" stroke="#000" stroke-width="0.9" />
<line x1="233.90" y1="525.45" x2="238.10" y2="525.45" stroke="#000" stroke-width="0.9" />
<path d="M111.3,577.6466666666668 L113.58,579.9266666666667 L111.3,582.2066666666667 L109.02,579.9266666666667 Z" fill="#fff" stroke="#000" stroke-width="0.9"/>
<path d="M173.7,533.0033333333333 L175.98,535.2833333333333 L173.7,537.5633333333333 L171.42,535.2833333333333 Z" fill="#fff" stroke="#000" stroke-width="0.9"/>
<path d="M236.0,523.9233333333334 L238.28,526.2033333333334 L236.0,528.4833333333333 L233.72,526.2033333333334 Z" fill="#fff" stroke="#000" stroke-width="0.9"/>
<line x1="173.70" y1="549.66" x2="173.70" y2="546.63" stroke="#000" stroke-width="0.9" />
<line x1="171.60" y1="546.63" x2="175.80" y2="546.63" stroke="#000" stroke-width="0.9" />
<line x1="236.00" y1="532.26" x2="236.00" y2="531.50" stroke="#000" stroke-width="0.9" />
<line x1="233.90" y1="531.50" x2="238.10" y2="531.50" stroke="#000" stroke-width="0.9" />
<path d="M111.3,578.0433333333334 L113.94,580.6833333333334 L111.3,583.3233333333334 L108.66,580.6833333333334 Z" fill="#000"/>
<path d="M173.7,547.02 L176.33999999999997,549.66 L173.7,552.3 L171.06,549.66 Z" fill="#000"/>
<path d="M236.0,529.6166666666667 L238.64,532.2566666666667 L236.0,534.8966666666666 L233.36,532.2566666666667 Z" fill="#000"/>
<rect x="109.38" y="590.87" width="3.84" height="3.84" fill="#fff" stroke="#000" stroke-width="0.9"/>
<rect x="171.78" y="567.41" width="3.84" height="3.84" fill="#fff" stroke="#000" stroke-width="0.9"/>
<rect x="234.08" y="553.79" width="3.84" height="3.84" fill="#fff" stroke="#000" stroke-width="0.9"/>
<line x1="236.00" y1="561.01" x2="236.00" y2="557.23" stroke="#000" stroke-width="0.9" />
<line x1="233.90" y1="557.23" x2="238.10" y2="557.23" stroke="#000" stroke-width="0.9" />
<rect x="109.14" y="590.87" width="4.32" height="3.84" fill="#000"/>
<rect x="171.54" y="570.44" width="4.32" height="3.84" fill="#000"/>
<rect x="233.84" y="559.09" width="4.32" height="3.84" fill="#000"/>
<text x="110.3" y="613.1" font-size="10" font-weight="bold" text-anchor="middle" fill="#000" >1:1</text>
<text x="172.6" y="613.1" font-size="10" font-weight="bold" text-anchor="middle" fill="#000" >8:1</text>
<text x="231.1" y="613.1" font-size="10" font-weight="bold" text-anchor="middle" fill="#000" >16:1</text>
<text x="173.6" y="629.6" font-size="10" font-weight="bold" text-anchor="middle" fill="#000" >E/T ratio</text>
<line x1="273.50" y1="513.50" x2="298.10" y2="513.50" stroke="#000" stroke-width="1.3" />
<path d="M285.5,510.745 L288.255,513.5 L285.5,516.255 L282.745,513.5 Z" fill="#fff" stroke="#000" stroke-width="0.9"/>
<text x="302.0" y="516.2" font-size="8" font-weight="bold" text-anchor="start" fill="#000" >Bortezomib treated JJN3+NK</text>
<text x="302.0" y="525.8" font-size="8" font-weight="bold" text-anchor="start" fill="#000" >with isotype control Ab</text>
<line x1="273.50" y1="540.80" x2="298.10" y2="540.80" stroke="#000" stroke-width="1.3" />
<path d="M285.5,537.6099999999999 L288.69,540.8 L285.5,543.99 L282.31,540.8 Z" fill="#000"/>
<text x="302.0" y="543.1" font-size="8" font-weight="bold" text-anchor="start" fill="#000" >Bortezomib treated JJN3+NK with NCR</text>
<text x="302.0" y="553.5" font-size="8" font-weight="bold" text-anchor="start" fill="#000" >blocked</text>
<line x1="273.50" y1="567.10" x2="298.10" y2="567.10" stroke="#000" stroke-width="1.3" />
<rect x="283.18" y="564.78" width="4.64" height="4.64" fill="#fff" stroke="#000" stroke-width="0.9"/>
<text x="302.0" y="565.3" font-size="8" font-weight="bold" text-anchor="start" fill="#000" >Untreated JJN3+NK</text>
<text x="302.0" y="575.2" font-size="8" font-weight="bold" text-anchor="start" fill="#000" >with isotype control Ab</text>
<line x1="273.50" y1="590.90" x2="298.10" y2="590.90" stroke="#000" stroke-width="1.3" />
<rect x="282.89" y="588.58" width="5.22" height="4.64" fill="#000"/>
<text x="302.0" y="589.8" font-size="8" font-weight="bold" text-anchor="start" fill="#000" >Untreated JJN3+NK with NCR</text>
<text x="302.0" y="600.0" font-size="8" font-weight="bold" text-anchor="start" fill="#000" >blocked</text>
</svg>
</body></html>
